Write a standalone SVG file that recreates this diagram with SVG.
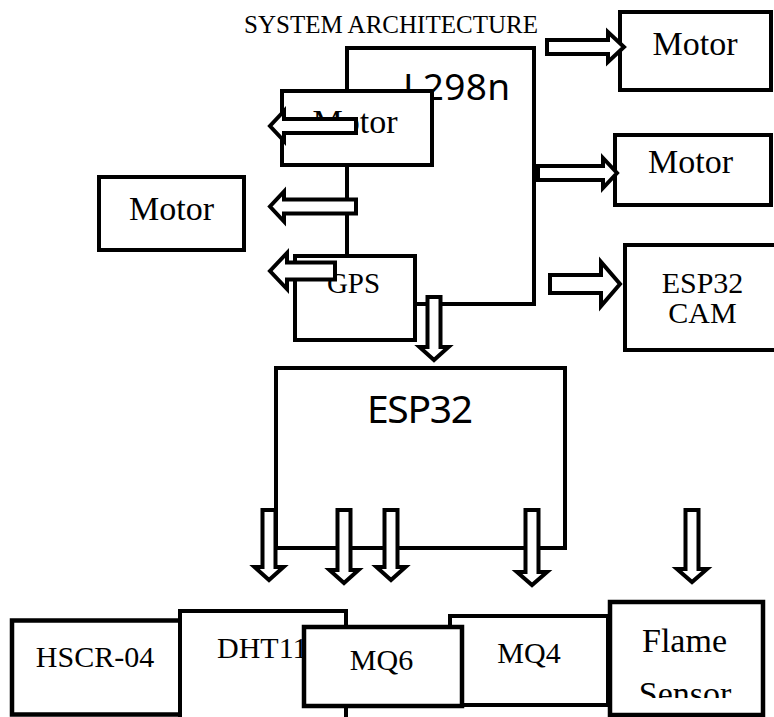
<svg xmlns="http://www.w3.org/2000/svg" width="774" height="717" viewBox="0 0 774 717">
<style>
.box{fill:#fff;stroke:#000;stroke-width:4}
.bx{fill:#fff;stroke:#000;stroke-width:4.5}
.t{font-family:"Liberation Serif","Times New Roman",serif;fill:#000}
.s{font-family:"Noto Sans","Open Sans","Liberation Sans",sans-serif;fill:#000}
.arr{fill:#fff;stroke:#000;stroke-width:4;stroke-linejoin:miter}
</style>
<defs>
<clipPath id="clipSensor"><rect x="600" y="600" width="170" height="98"/></clipPath>
</defs>
<rect width="774" height="717" fill="#fff"/>
<text class="t" x="244" y="33" font-size="25" textLength="294">SYSTEM ARCHITECTURE</text>

<g id="l298n">
<rect class="box" x="347" y="48" width="187" height="256"/>
<text class="s" x="403" y="100" font-size="37" textLength="107">L298n</text>
</g>
<g id="motor-inner">
<rect class="box" x="282" y="91" width="150" height="74"/>
<text class="t" x="355" y="133" font-size="34" text-anchor="middle">Motor</text>
</g>
<g id="gps">
<rect class="box" x="295" y="256" width="120" height="84"/>
<text class="t" x="353.5" y="293" font-size="29" text-anchor="middle">GPS</text>
</g>
<g id="motor-left">
<rect class="box" x="99" y="177" width="145" height="73"/>
<text class="t" x="171.5" y="220" font-size="34" text-anchor="middle">Motor</text>
</g>
<g id="motor-top-right">
<rect class="box" x="620" y="12" width="151" height="78"/>
<text class="t" x="695" y="55" font-size="34" text-anchor="middle">Motor</text>
</g>
<g id="motor-mid-right">
<rect class="box" x="615" y="135" width="156" height="70"/>
<text class="t" x="690.5" y="173" font-size="34" text-anchor="middle">Motor</text>
</g>
<g id="esp32cam">
<rect class="box" x="625" y="245" width="155" height="105"/>
<text class="t" x="702.5" y="293" font-size="30" text-anchor="middle">ESP32</text>
<text class="t" x="702.5" y="323" font-size="30" text-anchor="middle">CAM</text>
</g>
<g id="esp32">
<rect class="box" x="276" y="368" width="289" height="180"/>
<text class="s" x="367" y="423" font-size="39" textLength="106">ESP32</text>
</g>

<g id="hscr04">
<rect class="bx" x="12" y="620.5" width="170" height="94"/>
<text class="t" x="95" y="667" font-size="30" text-anchor="middle">HSCR-04</text>
</g>
<g id="dht11">
<rect class="box" x="180" y="611" width="166" height="108"/>
<text class="t" x="217" y="658" font-size="30">DHT11</text>
</g>
<g id="mq4">
<rect class="box" x="450" y="616" width="158" height="89"/>
<text class="t" x="529" y="663" font-size="30" text-anchor="middle">MQ4</text>
</g>
<g id="mq6">
<rect class="bx" x="304" y="627" width="158" height="79"/>
<text class="t" x="381.5" y="670" font-size="30" text-anchor="middle">MQ6</text>
</g>
<g id="flame">
<rect class="bx" x="610" y="602" width="153" height="113"/>
<text class="t" x="684.5" y="652" font-size="34" text-anchor="middle">Flame</text>
<text class="t" x="685" y="705" font-size="34" text-anchor="middle" clip-path="url(#clipSensor)">Sensor</text>
</g>

<g id="connectors">
<path class="arr" d="M356,119 H284 V111 L270,126 L284,141 V133 H356 Z"/>
<path class="arr" d="M356,199.5 H284 V191.5 L270,206.5 L284,221.5 V213.5 H356 Z"/>
<path class="arr" d="M335,262.5 H287 V253 L270,271 L287,289 V279.5 H335 Z"/>
<path class="arr" d="M547,40 H608 V32 L624,47 L608,62 V54 H547 Z"/>
<path class="arr" d="M538,166 H603 V158 L617,173 L603,188 V180 H538 Z"/>
<path class="arr" d="M550,275 H601 V262 L620,284 L601,306 V293 H550 Z"/>
<path class="arr" d="M427.5,297 H440.5 V347 H448.5 L434,360 L419.5,347 H427.5 Z"/>
<path class="arr" d="M262.5,510 H275.5 V567 H283.5 L269,580 L254.5,567 H262.5 Z"/>
<path class="arr" d="M337.5,510 H350.5 V570 H358.5 L344,583 L329.5,570 H337.5 Z"/>
<path class="arr" d="M384.5,510 H397.5 V567 H405.5 L391,580 L376.5,567 H384.5 Z"/>
<path class="arr" d="M525.5,510 H538.5 V572 H547 L532,585 L517,572 H525.5 Z"/>
<path class="arr" d="M685.5,510 H698.5 V569 H707 L692,582 L677,569 H685.5 Z"/>
</g>
</svg>
